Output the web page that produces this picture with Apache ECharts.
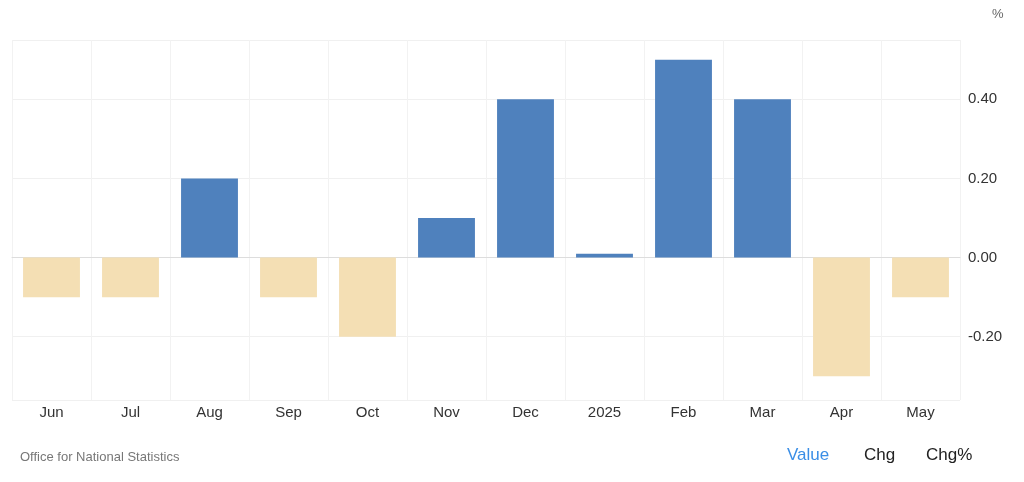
<!DOCTYPE html><html><head><meta charset="utf-8"><script src="https://cdn.jsdelivr.net/npm/echarts@6/dist/echarts.min.js"></script></head><body style="margin:0;background:#fff"><div id="c" style="width:1024px;height:482px"></div><script>
const categories=['Jun','Jul','Aug','Sep','Oct','Nov','Dec','2025','Feb','Mar','Apr','May'];
const values=[-0.1,-0.1,0.2,-0.1,-0.2,0.1,0.4,0.01,0.5,0.4,-0.3,-0.1];
const c=echarts.init(document.getElementById('c'));
c.setOption({animation:false,
grid:{left:12,right:64,top:40,bottom:82},
xAxis:{type:'category',data:categories,axisTick:{show:false},axisLine:{lineStyle:{color:'#ddd'}},
 axisLabel:{color:'#333',fontSize:15,fontFamily:'Arial',margin:5},splitLine:{show:true,lineStyle:{color:'#f2f2f2'}}},
yAxis:{type:'value',position:'right',min:-0.36,max:0.55,
 axisLabel:{showMinLabel:false,showMaxLabel:false,color:'#333',fontSize:15,fontFamily:'Arial',margin:8,formatter:v=>v.toFixed(2)},
 splitLine:{lineStyle:{color:'#f0f0f0'}}},
series:[{type:'bar',barWidth:'72%',data:values.map(v=>({value:v,itemStyle:{color:v<0?'#f4dfb4':'#4f81bd'}}))}],
graphic:[
{type:'text',left:992,top:8,style:{text:'%',fill:'#666',font:'13px Arial'}},
{type:'text',left:20,top:451,style:{text:'Office for National Statistics',fill:'#777',font:'13px Arial'}},
{type:'text',left:787,top:447,style:{text:'Value',fill:'#3a8ee6',font:'17px Arial'}},
{type:'text',left:864,top:447,style:{text:'Chg',fill:'#222',font:'17px Arial'}},
{type:'text',left:926,top:447,style:{text:'Chg%',fill:'#222',font:'17px Arial'}}
]});
</script></body></html>
